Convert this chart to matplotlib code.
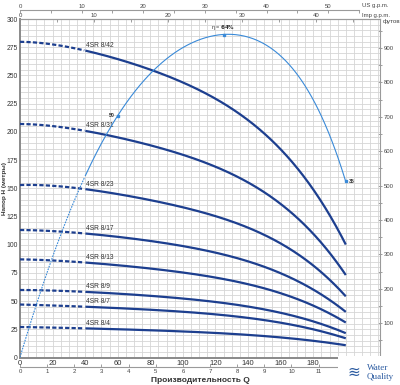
import numpy as np
import matplotlib
matplotlib.use('Agg')
import matplotlib.pyplot as plt
from matplotlib.patches import Rectangle

plt.rcParams['font.family'] = ['Liberation Sans', 'DejaVu Sans']

# ---------------- data ----------------
Q = [0, 20, 40, 60, 80, 100, 120, 140, 160, 180, 200]          # l/min
models = ['4SR 8/42', '4SR 8/31', '4SR 8/23', '4SR 8/17',
          '4SR 8/13', '4SR 8/9', '4SR 8/7', '4SR 8/4']
H_842 = [280, 277, 272, 265, 255, 244, 229, 210, 185, 149, 100]
H_831 = [207, 205, 201, 195, 188, 180, 169, 155, 136, 110, 73]
H_823 = [153, 152, 149, 145, 140, 133, 125, 115, 101, 82, 54]
H_817 = [113, 112, 110, 107, 103, 99, 93, 85, 75, 60, 40.5]
H_813 = [87, 86, 84, 82, 79, 75, 71, 65, 57, 46, 31]
H_89 = [60, 59, 58, 57, 55, 52, 49, 45, 40, 32, 21.5]
H_87 = [47, 46, 45, 44, 42, 41, 38, 35, 31, 25, 17]
H_84 = [27, 26.5, 26, 25, 24, 23, 22, 20, 18, 14.5, 11]
heads = [H_842, H_831, H_823, H_817, H_813, H_89, H_87, H_84]

eta_Q = [0, 10, 20, 30, 40, 50, 60, 70, 80, 90, 100, 110, 120, 125,
         130, 140, 150, 160, 170, 180, 190, 200]
eta = [0, 10.5, 20, 28.5, 36, 42.5, 48, 52.5, 56.3, 59.5, 61.7, 63.2,
       63.9, 64, 63.9, 63.4, 62.5, 60, 56.5, 51, 44, 35]
eta_marks_Q = [60, 125, 200]

x_ticks = [0, 20, 40, 60, 80, 100, 120, 140, 160, 180]
y_ticks = [0, 25, 50, 75, 100, 125, 150, 175, 200, 225, 250, 275, 300]
ft_ticks = [0, 100, 200, 300, 400, 500, 600, 700, 800, 900]
us_ticks = [0, 10, 20, 30, 40, 50]
imp_ticks = [0, 10, 20, 30, 40]
m3h_ticks = [0, 1, 2, 3, 4, 5, 6, 7, 8, 9, 10, 11]

NAVY = '#1d3f8f'
LBLUE = '#3a8ad8'


def smooth(x, y, deg):
    c = np.polyfit(np.asarray(x, float), np.asarray(y, float), deg)
    xs = np.linspace(x[0], x[-1], 300)
    return xs, np.polyval(c, xs)


fig = plt.figure(figsize=(4, 3.85), dpi=100)
pos = [0.05, 0.0714, 0.9, 0.8792]
ax = fig.add_axes(pos)
ax.set_xlim(0, 221)
ax.set_ylim(0, 300)
ax.set_xticks(np.arange(0, 221, 5), minor=True)
ax.set_yticks(np.arange(0, 301, 5), minor=True)
ax.set_xticks(x_ticks)
ax.set_yticks(y_ticks)
ax.grid(which='both', color='#d6d6d6', lw=0.6)
ax.set_axisbelow(True)
ax.tick_params(which='both', length=0)
ax.tick_params(axis='x', labelsize=5.5, pad=1.5, labelcolor='#333333')
ax.tick_params(axis='y', labelsize=4.9, pad=1.5, labelcolor='#333333')
for s in ['left', 'bottom']:
    ax.spines[s].set_color('#8a8a8a')
    ax.spines[s].set_linewidth(1.4)
for s in ['top', 'right']:
    ax.spines[s].set_color('#9a9a9a')
    ax.spines[s].set_linewidth(0.8)

ax.set_ylabel('Напор H (метры)', fontsize=4.6, fontweight='bold', color='#333333')
ax.yaxis.set_label_coords(-0.036, 0.5)

# pump curves
for name, H in zip(models, heads):
    xs, ys = smooth(Q, H, 4)
    d = xs <= 40
    ax.plot(xs[d], ys[d], color=NAVY, lw=1.6, dashes=(1.9, 1.0), zorder=3)
    s = xs >= 40
    ax.plot(xs[s], ys[s], color=NAVY, lw=1.6, zorder=3, solid_capstyle='butt')
    ax.annotate(name, (Q[2], H[2]), xytext=(0.5, 1.2), textcoords='offset points',
                fontsize=4.8, color='#333333', ha='left', va='bottom', zorder=4)

# efficiency curve
axe = fig.add_axes(pos, frameon=False)
axe.set_xlim(0, 221)
axe.set_ylim(0, 67.2)
axe.axis('off')
exs, eys = smooth(eta_Q, eta, 6)
d = exs <= 40
axe.plot(exs[d], eys[d], color=LBLUE, lw=0.8, dashes=(1.5, 1.0))
s = exs >= 40
axe.plot(exs[s], eys[s], color=LBLUE, lw=0.8)
for qm in eta_marks_Q:
    em = eta[eta_Q.index(qm)]
    axe.plot([qm], [em], 's', color=LBLUE, ms=2.0)
axe.annotate('50', (60, 48), xytext=(-2.5, 0), textcoords='offset points',
             fontsize=3.8, fontweight='bold', color='#333333', ha='right', va='center')
axe.annotate('η = $\\bf{64\\%}$', (125, 64), xytext=(0, 2.5), textcoords='offset points',
             fontsize=4.0, color='#333333', ha='center', va='bottom')
axe.annotate('35', (200, 35), xytext=(2.5, 0), textcoords='offset points',
             fontsize=3.8, fontweight='bold', color='#333333', ha='left', va='center')

# secondary axes
imp = ax.secondary_xaxis('top', functions=(lambda q: q / 4.546, lambda g: g * 4.546))
imp.set_xticks(imp_ticks)
imp.set_xticks(np.arange(0, 48, 5), minor=True)
imp.tick_params(which='both', direction='in', length=2, width=0.5, color='#777777',
                labelsize=4.3, pad=1, labelcolor='#444444')
imp.spines['top'].set_color('#9a9a9a')
imp.spines['top'].set_linewidth(0.8)

us = ax.secondary_xaxis(1.0266, functions=(lambda q: q / 3.785, lambda g: g * 3.785))
us.set_xticks(us_ticks)
us.set_xticks(np.arange(0, 56, 5), minor=True)
us.tick_params(which='both', direction='in', length=2, width=0.5, color='#777777',
               labelsize=4.3, pad=1, labelcolor='#444444')
us.spines['top'].set_color('#9a9a9a')
us.spines['top'].set_linewidth(0.8)
us.spines['top'].set_bounds(0, 55)

m3h = ax.secondary_xaxis(-0.029, functions=(lambda q: q * 0.06, lambda m: m / 0.06))
m3h.set_xticks(m3h_ticks)
m3h.tick_params(which='both', direction='in', length=2, width=0.5, color='#777777',
                labelsize=4.3, pad=1, labelcolor='#444444')
m3h.spines['bottom'].set_color('#9a9a9a')
m3h.spines['bottom'].set_linewidth(0.8)

ft = ax.secondary_yaxis('right', functions=(lambda m: m * 3.2808, lambda f: f / 3.2808))
ft.set_yticks(ft_ticks)
ft.set_yticks(np.arange(0, 951, 50), minor=True)
ft.tick_params(which='both', direction='inout', length=3, width=0.5, color='#777777',
               labelsize=4.3, pad=1, labelcolor='#444444')
ft.spines['right'].set_visible(False)

fig.text(383 / 400, 1 - 22 / 385, 'футов', fontsize=4.5, color='#444444',
         ha='left', va='center')
fig.text(362 / 400, 1 - 5 / 385, 'US g.p.m.', fontsize=4.3, color='#444444',
         ha='left', va='center')
fig.text(362 / 400, 1 - 15 / 385, 'Imp g.p.m.', fontsize=4.3, color='#444444',
         ha='left', va='center')

fig.text(0.5, 1 - 381 / 385, 'Производительность Q', fontsize=6, fontweight='bold',
         color='#333333', ha='center', va='center')

# logo area
fig.patches.append(Rectangle((338 / 400, 0), 62 / 400, 29 / 385, transform=fig.transFigure,
                             facecolor='white', edgecolor='none', zorder=10))
fig.text(378 / 400, 1 - 368 / 385, 'Water', fontsize=6.5, color='#2a5aa0',
         family='Liberation Serif', ha='center', va='center', zorder=11)
fig.text(380 / 400, 1 - 377 / 385, 'Quality', fontsize=6.5, color='#2a5aa0',
         family='Liberation Serif', ha='center', va='center', zorder=11)
fig.text(354 / 400, 1 - 372 / 385, '≋', fontsize=11, color='#2a5aa0',
         family='DejaVu Sans', ha='center', va='center', zorder=11)

fig.savefig('out.png', dpi=100)
